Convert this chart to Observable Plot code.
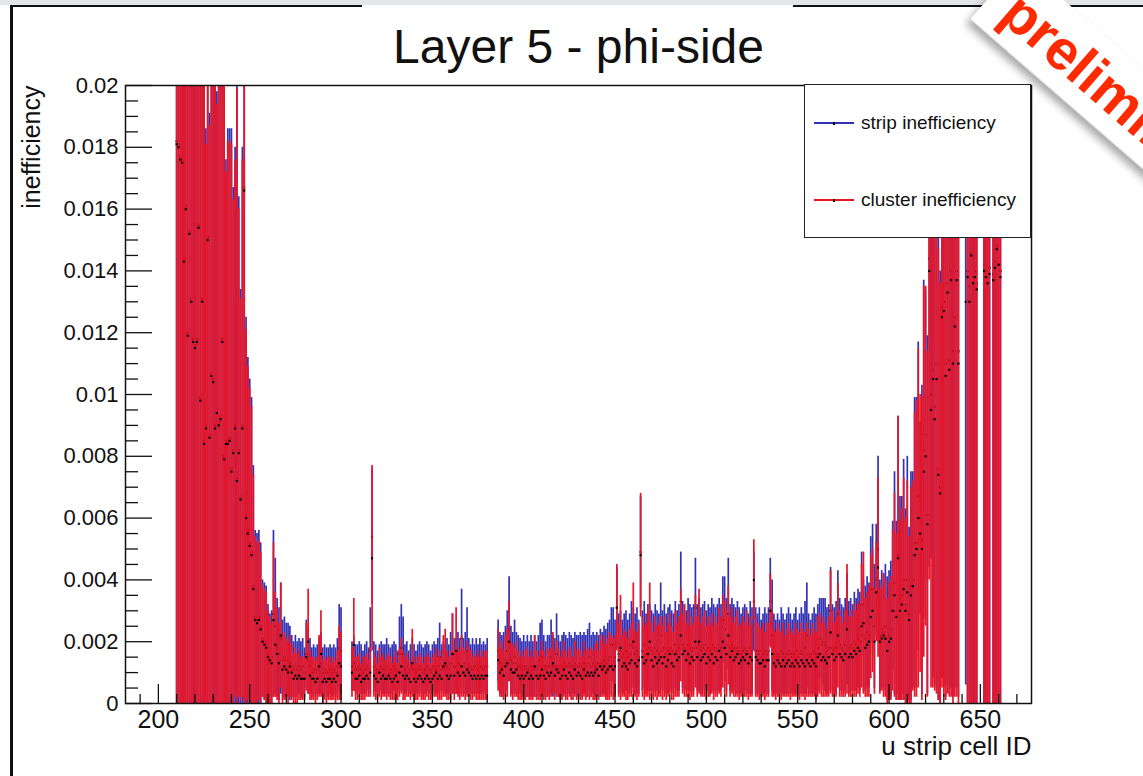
<!DOCTYPE html>
<html><head><meta charset="utf-8">
<script src="https://cdn.jsdelivr.net/npm/d3@7"></script>
<script src="https://cdn.jsdelivr.net/npm/@observablehq/plot@0.6"></script>
<style>
html,body{margin:0;padding:0;background:#fff}
body{width:1143px;height:776px;overflow:hidden;position:relative;font-family:"Liberation Sans",Arial,Helvetica,sans-serif}
#chart{position:absolute;left:0;top:0}
#topband{position:absolute;left:0;top:0;width:1143px;height:5px;background:#e3e5e8}
.hline{position:absolute;top:5px;height:2px;background:#111}
#vline{position:absolute;left:10px;top:5px;width:2.5px;height:771px;background:#111}
#legend{position:absolute;left:804px;top:84px;width:225px;height:152px;border:1.5px solid #222;background:#fff}
.lg{position:absolute;left:9px;height:20px;display:flex;align-items:center;font-size:19px;color:#111}
.lg .sw{position:relative;width:40px;height:2px;margin-right:7px}
.lg .sw i{position:absolute;left:19px;top:-0.5px;width:2px;height:3px;background:#000}
#stamp{position:absolute;left:1020px;top:-38px;width:600px;height:75px;transform-origin:0 0;transform:rotate(41deg);background:#fff;box-shadow:0 6px 8px rgba(0,0,0,0.35);border-bottom:1px solid #ddd}
#stamp span{display:block;padding-left:20px;line-height:75px;font-weight:bold;font-size:56px;color:#ff2a00;font-family:"Liberation Sans",Arial,sans-serif}
</style></head><body>
<div id="chart"></div>
<div id="topband"></div>
<div class="hline" style="left:10px;width:352px"></div>
<div class="hline" style="left:793px;width:350px"></div>
<div id="vline"></div>
<div id="legend"></div>
<div id="stamp"><span>preliminary</span></div>
<script>
// values in units of 1e-4 (inefficiency)
const U = 1e-4;
// Region A: strips 210-262
const startA = 210;
const stripA = [182,181,177,176,144,161,120,153,131,118, 116,118,155,99,131,85,90,151,87,107, 105,90,95,91,93,118,80,85,85,86, 76,82,90,73,82,67,90,167,61,56, 52,49,38,28,27,28,25,21,20,19, 16,14,15];
const stripErrA = [190,188,180,182,160,170,130,160,140,125, 124,126,160,110,140,120,96,155,104,112, 112,115,103,112,115,120,125,91,101,100, 110,85,90,130,82,67,90,170,64,56, 53,50,39,28,28,28,27,19,19,19, 16,15,15];
const clusterA = [181,180,176,175,143,160,119,152,130,117, 115,117,154,98,130,84,89,150,86,106, 104,89,94,90,92,117,79,84,84,85, 75,81,89,72,81,66,89,166,60,55, 51,48,37,27,26,27,24,20,19,18, 15,14,13];
const clusterErrA = [186,185,177,178,157,166,127,156,136,122, 121,122,156,106,136,117,92,151,101,108, 109,112,100,110,112,117,122,88,98,97, 106,82,87,127,79,65,87,166,61,54, 51,48,37,27,26,26,25,18,18,18, 15,14,13];
// Region B: strips 263-300
const startB = 263;
const stripB = [29,25,18,16,21,14,15,14,14,13, 12,11,12,11,12,11,12,10,16,14, 12,10,11,10,11,12,13,10,11,10, 10,11,10,11,10,12,18,17];
const stripErrB = [27,22,16,15,18,13,13,12,12,12, 10,9,10,9,9,9,9,8,11,11, 9,8,8,8,8,9,10,8,8,8, 8,8,8,8,8,9,14,14];
const clusterB = [27,19,16,13,22,11,12,11,10,12, 10,8,9,8,9,8,8,8,15,20, 9,8,8,7,8,12,16,7,8,7, 8,8,7,8,7,9,13,12];
const clusterErrB = [25,17,15,13,17,11,11,10,10,10, 9,8,9,8,8,7,7,7,11,17, 8,7,7,7,7,10,14,7,7,7, 7,7,6,7,7,8,12,11];
// Region C: strips 306-380
const startC = 306;
const stripC = [12,13,11,11,12,11,10,11,12,11, 17,54,12,11,10,11,12,11,11,12, 11,10,11,12,11,10,16,18,16,11, 12,10,11,12,11,10,11,12,11,10, 11,12,11,10,11,12,11,12,15,11, 12,11,12,11,13,16,12,12,13,12, 21,12,13,17,12,11,12,11,12,11, 12,11,12,11,12];
const stripErrC = [8,9,8,8,8,8,7,8,8,7, 14,22,8,8,7,8,8,8,8,9, 8,8,8,8,8,7,12,14,12,8, 8,7,8,9,8,7,8,8,8,8, 8,8,8,7,8,8,8,9,11,8, 8,8,9,8,10,13,9,9,10,9, 16,9,10,14,9,8,9,8,9,8, 9,8,8,8,9];
const clusterC = [10,19,8,8,9,7,8,8,9,8, 10,47,9,8,7,10,8,9,8,8, 9,8,7,8,9,7,10,12,9,8, 9,8,7,13,8,7,8,9,8,7, 8,9,8,7,8,9,10,8,9,8, 12,13,9,8,9,16,9,17,10,9, 12,10,9,11,10,9,8,9,8,9, 8,9,8,9,9];
const clusterErrC = [8,15,7,7,7,6,7,7,7,6, 8,30,7,7,6,8,7,7,6,7, 7,7,6,7,8,6,8,9,8,7, 7,6,6,11,7,6,7,7,7,6, 7,7,7,6,7,7,8,7,8,7, 10,11,8,7,8,13,8,14,8,8, 10,8,8,9,8,8,7,7,7,8, 7,8,7,8,8];
// Region D: strips 386-445
const startD = 386;
const stripD = [17,13,12,13,14,17,24,14,13,15, 13,12,12,11,12,11,12,11,12,11, 12,11,12,14,15,12,11,12,12,15, 12,12,16,12,11,12,13,12,12,13, 12,12,13,12,12,13,12,13,12,13, 15,12,13,12,13,12,13,13,14,13];
const stripErrD = [10,10,10,10,11,13,17,11,10,12, 10,10,9,9,10,9,10,9,10,9, 10,9,10,12,12,10,9,10,10,12, 10,9,13,10,9,10,10,10,9,10, 10,9,10,10,10,10,10,10,10,11, 11,10,10,10,10,10,11,10,11,11];
const clusterD = [14,10,11,9,12,13,20,11,10,10, 11,9,8,9,8,9,10,8,9,8, 12,9,8,9,11,9,8,10,9,10, 13,9,11,10,8,9,11,9,8,10, 9,8,11,9,10,9,8,11,9,10, 9,10,9,10,11,9,12,11,12,10];
const clusterErrD = [10,8,9,8,10,11,13,9,9,8, 9,8,7,8,7,8,8,7,8,7, 10,8,7,8,9,8,7,8,8,8, 10,8,9,8,7,8,9,8,7,8, 8,7,9,8,8,8,7,9,8,8, 8,8,8,9,9,8,10,9,10,9];
// Region E: strips 446-590
const startE = 446;
const stripE = [14,15,19,19,15,31,16,17,15,16, 17,15,16,19,18,16,17,15,49,17, 19,16,18,18,17,16,18,17,16,22, 17,18,16,17,18,17,16,19,17,18, 33,19,18,17,19,18,17,18,31,18, 19,17,18,19,17,18,17,19,18,17, 18,19,18,27,24,19,29,18,19,18, 17,18,17,16,17,18,17,16,18,17, 33,17,16,17,15,16,17,16,17,33, 22,16,15,16,15,17,16,15,16,17, 16,15,16,17,15,16,17,16,18,22, 16,15,16,17,16,18,21,19,20,19, 17,18,30,18,17,18,29,19,18,17, 19,24,18,19,18,20,19,21,20,32, 22,21,23,22,37];
const stripErrE = [12,12,12,12,12,13,13,13,12,13, 13,12,13,14,13,13,14,12,18,13, 14,13,14,14,13,13,14,13,13,17, 13,14,13,14,14,13,13,14,13,14, 16,14,14,13,15,14,14,14,16,14, 15,14,14,14,13,14,14,15,14,14, 14,15,14,14,17,15,18,14,15,14, 14,15,14,13,14,14,14,13,15,14, 16,14,13,14,12,13,14,13,14,14, 18,13,12,13,12,14,13,12,13,14, 13,12,13,14,12,13,14,13,15,17, 13,12,13,14,13,14,13,15,14,15, 14,14,14,14,14,15,14,15,14,14, 15,18,15,15,14,16,15,16,16,17, 18,17,18,17,17];
const clusterE = [11,12,12,11,12,31,14,18,12,13, 12,11,13,14,20,13,12,14,48,15, 13,14,16,20,14,12,15,13,14,15, 13,15,12,14,16,13,12,16,14,15, 22,16,17,14,16,13,15,14,20,15, 20,14,15,16,13,15,14,16,13,15, 14,17,15,20,18,16,22,15,17,14, 15,16,13,14,15,14,16,13,15,14, 40,15,14,13,13,14,12,14,14,30, 16,13,12,14,13,12,14,12,13,14, 12,13,12,14,13,12,14,13,12,14, 13,12,14,13,12,15,16,14,15,14, 13,15,23,16,14,15,22,16,15,14, 16,24,15,16,15,17,16,18,17,25, 26,18,19,20,28];
const clusterErrE = [10,11,10,10,10,14,12,17,10,11, 11,10,11,12,19,11,11,12,20,13, 12,12,14,19,12,11,13,12,12,13, 12,13,11,12,13,12,11,14,12,13, 15,13,15,12,14,12,13,12,15,13, 17,12,13,14,12,13,12,13,12,13, 12,14,13,15,15,14,16,13,14,12, 13,14,12,12,13,12,14,12,13,12, 13,13,12,12,11,12,11,12,12,12, 14,11,11,12,11,11,12,10,11,12, 11,11,10,12,11,11,12,11,11,12, 11,10,12,11,11,13,13,12,13,12, 11,13,20,14,12,13,17,14,13,12, 14,21,13,14,13,15,14,15,15,20, 23,16,17,18,20];
// Region F: strips 591-638
const startF = 591;
const stripF = [37,25,40,50,22,24,23,25,21,22, 24,35,39,30,48,34,35,40,32,40, 29,38,40,52,52,67,60,53,82,87, 61,144,100,108,96,110,76,70,128,130, 110,136,111,140,114,125,140,114];
const stripErrF = [21,20,18,30,18,19,19,20,20,21, 22,24,36,29,45,33,32,39,31,40, 28,37,35,47,47,50,31,50,55,47, 58,100,53,100,90,105,75,70,120,125, 108,130,108,135,112,120,135,112];
const clusterF = [30,20,36,44,20,21,22,21,17,20, 21,30,35,28,47,30,32,37,30,36, 27,35,38,48,50,60,55,50,75,80, 58,140,95,105,92,105,74,68,125,127, 106,133,108,137,110,122,137,110];
const clusterErrF = [20,17,16,29,17,17,20,19,17,19, 20,26,33,27,46,29,31,36,30,36, 27,35,34,46,48,55,45,49,60,55, 56,100,90,100,88,102,73,68,120,125, 105,130,106,135,110,120,135,110];
// Region G: strips 642-661 (null = no entry)
const startG = 642;
const stripG = [130,140,135,146,138,140,136,null,null,null, 142,140,138,141,null,139,143,148,142,140];
const stripErrG = [124,140,135,146,138,140,136,null,null,null, 142,140,138,141,null,139,143,148,142,140];
const clusterG = [null,138,130,145,136,138,134,null,null,null, 140,138,136,139,null,137,141,147,142,138];
const clusterErrG = [null,138,130,145,136,138,134,null,null,null, 140,138,136,139,null,137,141,147,142,138];

const xMajor = [200,250,300,350,400,450,500,550,600,650];
const xMinor = [190,210,220,230,240,260,270,280,290,310,320,330,340,360,370,380,390,410,420,430,440,460,470,480,490,510,520,530,540,560,570,580,590,610,620,630,640,660,670];
const yMajor = [0,0.002,0.004,0.006,0.008,0.01,0.012,0.014,0.016,0.018,0.02];
const yMinor = [0.0005,0.001,0.0015,0.0025,0.003,0.0035,0.0045,0.005,0.0055,0.0065,0.007,0.0075,0.0085,0.009,0.0095,0.0105,0.011,0.0115,0.0125,0.013,0.0135,0.0145,0.015,0.0155,0.0165,0.017,0.0175,0.0185,0.019,0.0195];

const titleText = "Layer 5 - phi-side";
const xLabel = "u strip cell ID";
const yLabel = "inefficiency";
const legendLabels = ["strip inefficiency", "cluster inefficiency"];
const BLUE = "#3232b4", RED = "#ea1424";
const legendColors = [BLUE, RED];

const regions = [
  [startA, stripA, stripErrA, clusterA, clusterErrA],
  [startB, stripB, stripErrB, clusterB, clusterErrB],
  [startC, stripC, stripErrC, clusterC, clusterErrC],
  [startD, stripD, stripErrD, clusterD, clusterErrD],
  [startE, stripE, stripErrE, clusterE, clusterErrE],
  [startF, stripF, stripErrF, clusterF, clusterErrF],
  [startG, stripG, stripErrG, clusterG, clusterErrG]
];
const stripRows = [], clusterRows = [];
for (const [start, s, se, c, ce] of regions) {
  s.forEach((v, i) => {
    if (v != null) stripRows.push({id: start + i, v: v * U, e: se[i] * U});
    if (c[i] != null) clusterRows.push({id: start + i, v: c[i] * U, e: ce[i] * U});
  });
}
const YMAX = 0.02;
const lo = d => Math.max(0, d.v - d.e);
const hi = d => Math.min(YMAX, d.v + d.e);

const W = 1143, H = 776, ML = 125, MR = 112, MT = 85, MB = 73;
const FW = W - ML - MR, FH = H - MT - MB;

const chart = Plot.plot({
  width: W, height: H,
  marginLeft: ML, marginRight: MR, marginTop: MT, marginBottom: MB,
  x: {domain: [182, 678]},
  y: {domain: [0, YMAX]},
  style: {fontFamily: "Liberation Sans, Arial, Helvetica, sans-serif", background: "transparent", color: "#111", overflow: "visible"},
  marks: [
    Plot.ruleX(stripRows, {x: "id", y1: lo, y2: hi, stroke: BLUE, strokeWidth: 1.7}),
    Plot.dot(stripRows, {x: "id", y: "v", r: 1.2, symbol: "square", fill: "#000", clip: true}),
    Plot.ruleX(clusterRows, {x: "id", y1: lo, y2: hi, stroke: RED, strokeWidth: 1.7}),
    Plot.dot(clusterRows, {x: "id", y: "v", r: 1.2, symbol: "square", fill: "#000", clip: true}),
    Plot.ruleY(yMajor, {y: d => d, insetRight: FW - 27, stroke: "#111", strokeWidth: 1.3}),
    Plot.ruleY(yMinor, {y: d => d, insetRight: FW - 13, stroke: "#111", strokeWidth: 1.3}),
    Plot.ruleX(xMajor, {x: d => d, insetTop: FH - 19, stroke: "#111", strokeWidth: 1.3}),
    Plot.ruleX(xMinor, {x: d => d, insetTop: FH - 9, stroke: "#111", strokeWidth: 1.3}),
    Plot.axisY({ticks: yMajor, tickSize: 0, tickPadding: 7, tickFormat: d3.format("~g"), fontSize: 22, label: null}),
    Plot.axisX({ticks: xMajor, tickSize: 0, tickPadding: 7, tickFormat: d => String(d), fontSize: 25, label: null}),
    Plot.frame({stroke: "#111", strokeWidth: 1.5}),
    Plot.text([titleText], {text: d => d, frameAnchor: "top", lineAnchor: "middle", dy: -38, fontSize: 48, fill: "#111"}),
    Plot.text([yLabel], {text: d => d, frameAnchor: "top-left", lineAnchor: "middle", dx: -94, rotate: -90, textAnchor: "end", fontSize: 25, fill: "#111"}),
    Plot.text([xLabel], {text: d => d, frameAnchor: "bottom-right", lineAnchor: "middle", dy: 43, textAnchor: "end", fontSize: 26, fill: "#111"})
  ]
});
document.getElementById("chart").appendChild(chart);

const lg = document.getElementById("legend");
const rowsTop = [28, 105];
legendLabels.forEach((t, i) => {
  const row = document.createElement("div");
  row.className = "lg";
  row.style.top = rowsTop[i] + "px";
  row.innerHTML = `<span class="sw" style="background:${legendColors[i]}"><i></i></span><span></span>`;
  row.lastChild.textContent = t;
  lg.appendChild(row);
});
</script>
</body></html>
